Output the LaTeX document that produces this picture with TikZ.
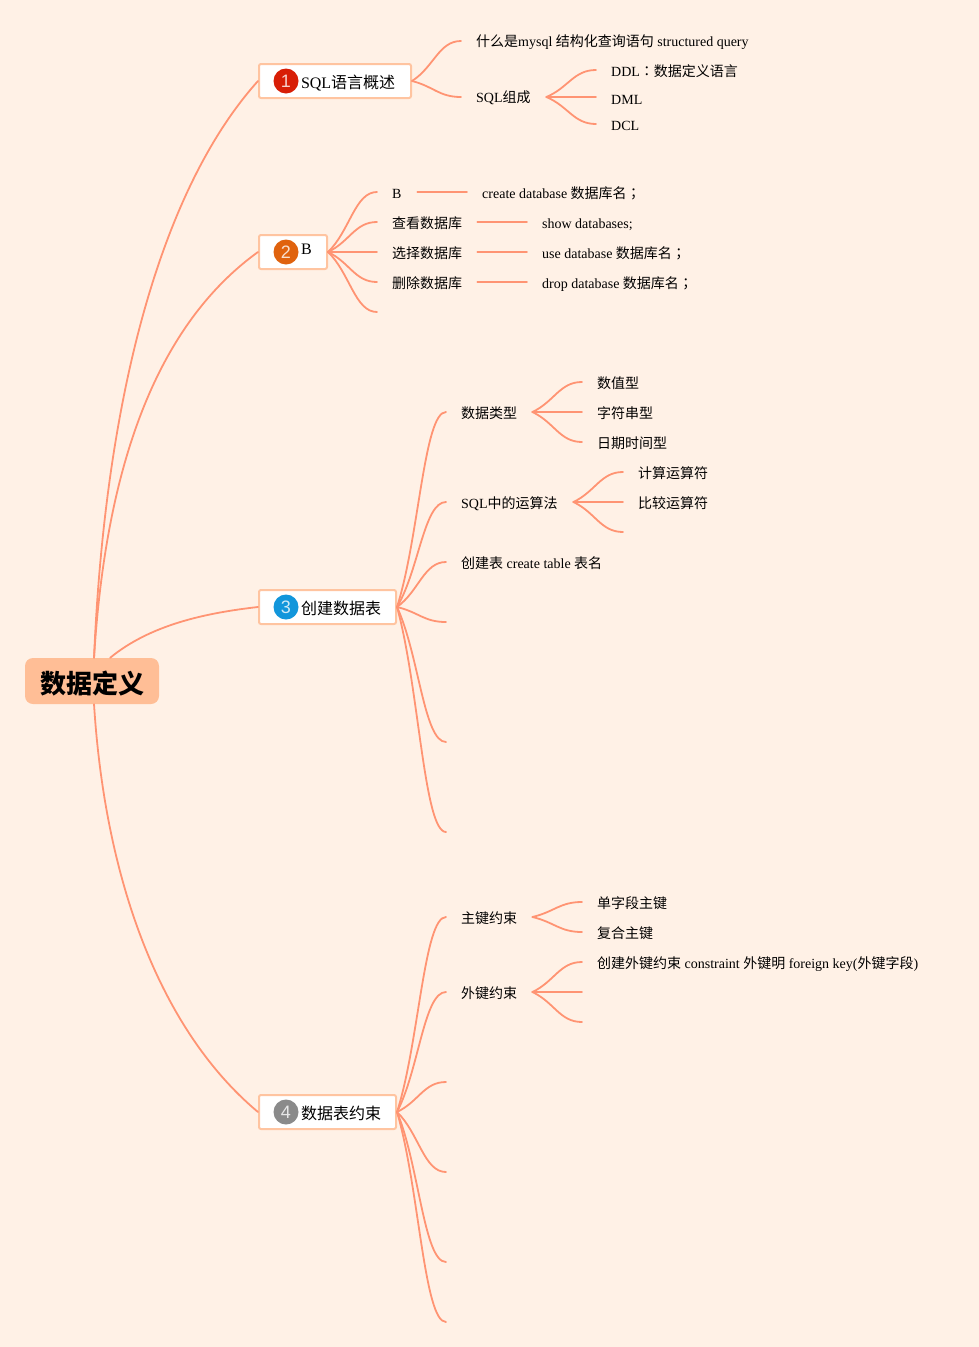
\documentclass[tikz,border=0pt]{standalone}
\usepackage{fontspec}
\usetikzlibrary{calc}
\setmainfont{Liberation Serif}
\newfontfamily\cjf{Noto Sans CJK SC}
\newfontfamily\cjt{Noto Sans CJK TC}
\newfontfamily\digf{Liberation Sans}
\newcommand{\cj}[1]{{\cjf #1}}
\newcommand{\cp}[1]{{\cjt #1}}
\newcommand{\tightsp}{\spaceskip=3.45pt\relax}
\definecolor{bgc}{HTML}{FFF1E6}
\definecolor{conc}{HTML}{FF9473}
\definecolor{rootc}{HTML}{FFBE96}
\definecolor{boxc}{HTML}{FFC4A0}
\definecolor{dra}{HTML}{D81E06}
\definecolor{drb}{HTML}{E0620D}
\definecolor{drc}{HTML}{1296DB}
\definecolor{drd}{HTML}{8A8A8A}
\newcommand{\br}[2]{\draw[conn] (#1) .. controls ($(#1)!.15!(#1-|#2)!.35!(#2)$) and ($(#1|-#2)!.55!(#2)$) .. (#2);}
\tikzset{
  x=1pt,y=-1pt,
  conn/.style={draw=conc,line width=1.8pt,line cap=round},
  lbl/.style={anchor=west,inner xsep=15pt,inner ysep=0pt,text width=#1,align=left,text height=16pt,text depth=4pt,font=\fontsize{14}{16}\selectfont,execute at begin node={\tightsp}},
  bx/.style={draw=boxc,line width=2pt,fill=white,rounded corners=2pt,inner xsep=0pt,inner ysep=0pt,text width=#1,align=left,minimum height=34pt,text height=19pt,text depth=4pt,font=\fontsize{16}{18}\selectfont},
  badge/.style={circle,fill=#1,minimum size=25pt,inner sep=0pt,text=white,text opacity=.8,font=\digf\fontsize{18}{18}\selectfont},
}
\begin{document}
\begin{tikzpicture}
\useasboundingbox[fill=bgc] (0,0) rectangle (979,1347);
\node[fill=rootc,rounded corners=8pt,minimum width=134pt,minimum height=46pt,inner sep=0pt,text height=28pt,text depth=4pt,font=\cjf\bfseries\fontsize{26}{28}\selectfont] (root) at (92,681) {数据定义};
% main boxes
\node[bx=152pt,anchor=center] (b1) at (335,81) {\hspace*{42pt}SQL\cj{语言概述}};
\node[bx=68pt,anchor=center] (b2) at (293,252) {\hspace*{42pt}\raisebox{5pt}{B}};
\node[bx=137pt,anchor=center] (b3) at (327.5,607) {\hspace*{42pt}\cj{创建数据表}};
\node[bx=137pt,anchor=center] (b4) at (327.5,1112) {\hspace*{42pt}\cj{数据表约束}};
\node[badge=dra] (d1) at (286,81) {1};
\node[badge=drb] (d2) at (286,252) {2};
\node[badge=drc] (d3) at (286,607) {3};
\node[badge=drd] (d4) at (286,1112) {4};
% root connectors
\draw[conn] (root.85) .. controls (105,400) and (160,190) .. (b1.west);
\draw[conn] (root.85) .. controls (105,480) and (150,330) .. (b2.west);
\draw[conn] (root.52) .. controls (150,625) and (205,613) .. (b3.west);
\draw[conn] (root.-85) .. controls (105,880) and (160,1030) .. (b4.west);
% section 1
\node[lbl=300pt] (a1) at (461,41) {\raisebox{1pt}{\cj{什么是}mysql \cj{结构化查询语句} structured query}};
\node[lbl=55pt] (a2) at (461,97) {\raisebox{1pt}{SQL\cj{组成}}};
\node[lbl=200pt] (a21) at (596,70) {DDL\cp{：}\cj{数据定义语言}};
\node[lbl=100pt] (a22) at (596,97) {\raisebox{-1pt}{DML}};
\node[lbl=100pt] (a23) at (596,124) {DCL};
\br{b1.east}{a1.west}\br{b1.east}{a2.west}
\br{a2.east}{a21.west}\br{a2.east}{a22.west}\br{a2.east}{a23.west}
% section 2
\node[lbl=10pt] (c1) at (377,192) {B};
\node[lbl=70pt] (c2) at (377,222) {\cj{查看数据库}};
\node[lbl=70pt] (c3) at (377,252) {\cj{选择数据库}};
\node[lbl=70pt] (c4) at (377,282) {\cj{删除数据库}};
\coordinate (c5) at (377,312);
\node[lbl=220pt] (e1) at (467,192) {create database \cj{数据库名}\cp{；}};
\node[lbl=200pt] (e2) at (527,222) {show databases;};
\node[lbl=200pt] (e3) at (527,252) {use database \cj{数据库名}\cp{；}};
\node[lbl=200pt] (e4) at (527,282) {drop database \cj{数据库名}\cp{；}};
\br{b2.east}{c1.west}\br{b2.east}{c2.west}\br{b2.east}{c3.west}\br{b2.east}{c4.west}\br{b2.east}{c5}
\draw[conn] (c1.east) -- (e1.west);
\draw[conn] (c2.east) -- (e2.west);
\draw[conn] (c3.east) -- (e3.west);
\draw[conn] (c4.east) -- (e4.west);
% section 3
\node[lbl=56pt] (f1) at (446,412) {\cj{数据类型}};
\node[lbl=97pt] (f2) at (446,502) {SQL\cj{中的运算法}};
\node[lbl=220pt] (f3) at (446,562) {\cj{创建表} create table \cj{表名}};
\coordinate (f4) at (446,622);
\coordinate (f5) at (446,742);
\coordinate (f6) at (446,832);
\node[lbl=100pt] (g1) at (582,382) {\cj{数值型}};
\node[lbl=100pt] (g2) at (582,412) {\cj{字符串型}};
\node[lbl=100pt] (g3) at (582,442) {\cj{日期时间型}};
\node[lbl=100pt] (h1) at (623,472) {\cj{计算运算符}};
\node[lbl=100pt] (h2) at (623,502) {\cj{比较运算符}};
\coordinate (h3) at (623,532);
\br{b3.east}{f1.west}\br{b3.east}{f2.west}\br{b3.east}{f3.west}\br{b3.east}{f4}\br{b3.east}{f5}\br{b3.east}{f6}
\br{f1.east}{g1.west}\br{f1.east}{g2.west}\br{f1.east}{g3.west}
\br{f2.east}{h1.west}\br{f2.east}{h2.west}\br{f2.east}{h3}
% section 4
\node[lbl=56pt] (k1) at (446,917) {\cj{主键约束}};
\node[lbl=56pt] (k2) at (446,992) {\cj{外键约束}};
\coordinate (k3) at (446,1082);
\coordinate (k4) at (446,1172);
\coordinate (k5) at (446,1262);
\coordinate (k6) at (446,1322);
\node[lbl=100pt] (m1) at (582,902) {\cj{单字段主键}};
\node[lbl=100pt] (m2) at (582,932) {\cj{复合主键}};
\node[lbl=340pt] (n1) at (582,962) {\cj{创建外键约束} constraint \cj{外键明} foreign key(\cj{外键字段})};
\coordinate (n2) at (582,992);
\coordinate (n3) at (582,1022);
\br{b4.east}{k1.west}\br{b4.east}{k2.west}\br{b4.east}{k3}\br{b4.east}{k4}\br{b4.east}{k5}\br{b4.east}{k6}
\br{k1.east}{m1.west}\br{k1.east}{m2.west}
\br{k2.east}{n1.west}\br{k2.east}{n2}\br{k2.east}{n3}
\end{tikzpicture}
\end{document}
